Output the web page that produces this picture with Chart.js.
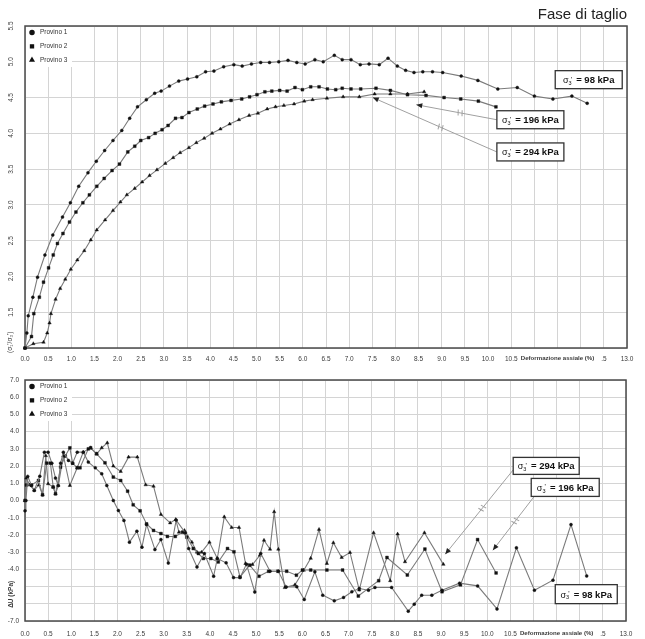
<!DOCTYPE html>
<html>
<head>
<meta charset="utf-8">
<script src="https://cdn.jsdelivr.net/npm/chart.js@4.4.0/dist/chart.umd.min.js"></script>
<style>
  html, body { margin: 0; padding: 0; background: #fff; }
  #wrap { position: relative; width: 645px; height: 639px; }
  #top { position: absolute; left: 0; top: 0; }
  #bottom { position: absolute; left: 0; top: 370px; }
</style>
</head>
<body>
<div id="wrap">
  <canvas id="top" width="645" height="370"></canvas>
  <canvas id="bottom" width="645" height="269"></canvas>
</div>
<script>
const FONT = '"Liberation Sans", Arial, Helvetica, sans-serif';

const seriesNames = ['Provino 1', 'Provino 2', 'Provino 3'];
const markerStyles = ['circle', 'rect', 'triangle'];
const pressureLabels = ['98 kPa', '196 kPa', '294 kPa'];
const panelTitle = 'Fase di taglio';
const xTitle = 'Deformazione assiale (%)';
const ratioTitle = "(σ₁'/σ₃')";
const duTitle = 'ΔU (kPa)';

// rapporto sigma1'/sigma3' durante il taglio
const strainA = [0,0.04,0.07,0.17,0.27,0.43,0.60,0.81,0.98,1.16,1.36,1.54,1.72,1.90,2.09,2.26,2.43,2.62,2.80,2.94,3.12,3.32,3.51,3.71,3.90,4.08,4.29,4.51,4.69,4.89,5.09,5.28,5.48,5.68,5.87,6.05,6.26,6.44,6.68,6.85,7.04,7.24,7.43,7.65,7.84,8.04,8.22,8.40,8.59,8.80,9.02,9.42,9.78,10.21,10.63,11.00,11.40,11.81,12.14];
const ratioA  = [1.00,1.21,1.45,1.71,1.99,2.30,2.58,2.83,3.03,3.26,3.45,3.61,3.76,3.90,4.04,4.21,4.37,4.47,4.56,4.59,4.66,4.73,4.76,4.79,4.86,4.87,4.93,4.96,4.94,4.97,4.99,4.99,5.00,5.02,4.99,4.97,5.03,5.00,5.09,5.03,5.03,4.96,4.97,4.96,5.05,4.94,4.88,4.85,4.86,4.86,4.85,4.80,4.74,4.62,4.64,4.52,4.48,4.52,4.42];

const strainB = [0,0.14,0.19,0.31,0.40,0.51,0.61,0.70,0.82,0.96,1.10,1.25,1.39,1.55,1.71,1.88,2.04,2.22,2.37,2.50,2.67,2.81,2.96,3.09,3.25,3.39,3.54,3.72,3.88,4.06,4.24,4.45,4.68,4.85,5.01,5.18,5.33,5.50,5.66,5.83,5.99,6.17,6.35,6.53,6.71,6.85,7.04,7.25,7.58,7.89,8.26,8.66,9.05,9.41,9.79,10.17];
const ratioB  = [1.00,1.16,1.48,1.71,1.92,2.12,2.30,2.46,2.60,2.76,2.90,3.03,3.14,3.26,3.37,3.48,3.57,3.74,3.82,3.90,3.94,4.00,4.05,4.11,4.21,4.22,4.29,4.34,4.38,4.41,4.44,4.46,4.48,4.51,4.54,4.58,4.59,4.60,4.59,4.64,4.61,4.65,4.65,4.62,4.61,4.63,4.62,4.62,4.63,4.60,4.54,4.53,4.50,4.48,4.45,4.37];

const strainC = [0,0.18,0.40,0.48,0.53,0.56,0.66,0.76,0.87,0.99,1.13,1.28,1.42,1.55,1.73,1.90,2.06,2.20,2.37,2.53,2.69,2.85,3.03,3.20,3.35,3.54,3.70,3.87,4.04,4.22,4.42,4.62,4.84,5.03,5.23,5.41,5.59,5.81,6.03,6.21,6.52,6.87,7.22,7.55,7.89,8.26,8.62];
const ratioC  = [1.00,1.06,1.08,1.21,1.35,1.48,1.68,1.83,1.96,2.10,2.23,2.36,2.51,2.65,2.79,2.92,3.04,3.14,3.23,3.32,3.41,3.49,3.58,3.66,3.73,3.80,3.87,3.93,4.00,4.06,4.13,4.19,4.25,4.28,4.34,4.37,4.39,4.41,4.45,4.47,4.49,4.51,4.51,4.55,4.55,4.55,4.58];

// sovrappressione interstiziale
const strainUA = [0,0.02,0.06,0.14,0.20,0.32,0.42,0.50,0.58,0.66,0.72,0.77,0.83,0.94,1.03,1.13,1.26,1.37,1.52,1.66,1.77,1.91,2.02,2.14,2.26,2.42,2.53,2.63,2.81,2.94,3.10,3.27,3.47,3.54,3.72,3.88,4.08,4.16,4.35,4.51,4.65,4.79,4.97,5.10,5.30,5.48,5.65,5.88,6.04,6.27,6.44,6.69,6.89,7.07,7.23,7.43,7.57,7.93,8.29,8.42,8.58,8.80,9.02,9.40,9.79,10.21,10.63,11.02,11.42,11.81,12.15];
const duA      = [-0.60,0.00,1.40,0.87,0.58,1.41,2.81,2.81,2.17,1.30,0.87,2.17,2.81,2.33,2.17,2.81,2.81,2.23,1.90,1.55,0.87,0.00,-0.58,-1.16,-2.42,-1.78,-2.71,-1.39,-2.85,-2.27,-3.63,-1.14,-1.88,-2.79,-3.86,-3.08,-4.40,-3.37,-3.62,-4.48,-4.48,-3.70,-5.31,-3.08,-4.11,-4.11,-5.02,-5.01,-5.75,-4.14,-5.50,-5.83,-5.63,-5.30,-5.11,-5.21,-5.05,-5.05,-6.43,-6.02,-5.50,-5.50,-5.21,-4.80,-4.96,-6.30,-2.75,-5.21,-4.63,-1.40,-4.38];

const strainUB = [0,0.03,0.14,0.29,0.38,0.47,0.55,0.61,0.66,0.77,0.87,0.97,1.03,1.13,1.19,1.37,1.42,1.55,1.73,1.91,2.07,2.22,2.34,2.49,2.63,2.78,2.94,3.08,3.25,3.41,3.50,3.64,3.75,3.86,4.02,4.18,4.38,4.52,4.65,4.86,5.06,5.27,5.47,5.66,5.87,6.00,6.18,6.53,6.87,7.21,7.65,7.83,8.27,8.65,9.02,9.42,9.79,10.19];
const duB      = [0.00,0.90,0.90,1.16,0.33,2.17,2.17,0.78,0.39,1.94,2.58,3.06,2.17,1.90,1.90,3.00,3.06,2.71,2.19,1.36,1.16,0.54,-0.25,-0.60,-1.36,-1.74,-1.92,-2.09,-2.09,-1.84,-2.13,-2.79,-3.08,-3.37,-3.37,-3.57,-2.79,-2.98,-4.44,-3.76,-4.40,-4.11,-4.11,-4.11,-4.34,-4.04,-4.04,-4.04,-4.04,-5.55,-4.66,-3.31,-4.33,-2.82,-5.30,-4.90,-2.27,-4.21];

const strainUC = [0,0.03,0.10,0.20,0.30,0.38,0.45,0.50,0.61,0.66,0.72,0.83,0.97,1.13,1.26,1.42,1.55,1.66,1.78,1.91,2.07,2.24,2.43,2.61,2.78,2.94,3.14,3.26,3.33,3.45,3.61,3.72,3.82,3.99,4.16,4.31,4.47,4.63,4.77,4.92,5.08,5.17,5.30,5.39,5.48,5.62,5.84,6.03,6.18,6.36,6.53,6.67,6.85,7.03,7.23,7.54,7.90,8.06,8.22,8.64,9.05];
const duC      = [0.00,1.30,0.90,0.60,0.90,0.33,2.60,0.97,0.78,0.39,0.87,2.60,0.87,1.90,2.81,3.06,2.71,3.06,3.35,2.00,1.69,2.52,2.52,0.91,0.83,-0.81,-1.30,-1.10,-1.84,-1.74,-2.42,-3.00,-3.00,-2.42,-3.37,-0.95,-1.57,-1.57,-3.66,-3.72,-3.18,-2.31,-2.83,-0.66,-2.83,-5.06,-4.90,-4.05,-3.36,-1.68,-3.66,-2.45,-3.31,-3.02,-5.20,-1.87,-4.66,-1.95,-3.56,-1.87,-3.71];

// etichette delle pressioni di confinamento (box in coordinate dati, leader verso la curva)
const topNotes = [
  { text: pressureLabels[0], x: 11.45, y: 4.75, w: 67, h: 18 },
  { text: pressureLabels[1], x: 10.19, y: 4.19, w: 67, h: 18, from: [0, 0], tip: [8.45, 4.40] },
  { text: pressureLabels[2], x: 10.19, y: 3.74, w: 67, h: 18, from: [0, 0], tip: [7.51, 4.50] }
];
const bottomNotes = [
  { text: pressureLabels[2], x: 10.56, y: 2.01, w: 66, h: 17, from: [0, 4], tip: [9.09, -3.12] },
  { text: pressureLabels[1], x: 10.95, y: 0.76, w: 68, h: 18, from: [3, 9], tip: [10.12, -2.89] },
  { text: pressureLabels[0], x: 11.47, y: -5.44, w: 62, h: 19 }
];

Chart.defaults.font.family = FONT;

function pairs(xs, ys) {
  return xs.map((x, i) => ({ x: x, y: ys[i] }));
}

function series(i, xs, ys) {
  const style = markerStyles[i];
  return {
    label: seriesNames[i],
    data: pairs(xs, ys),
    showLine: true,
    borderColor: '#7a7a7a',
    borderWidth: 1.1,
    pointStyle: style,
    pointRadius: style === 'circle' ? 1.5 : 2.0,
    pointBackgroundColor: '#111',
    pointBorderColor: '#111',
    pointBorderWidth: 0.4,
    clip: 4
  };
}

const near = (a, b) => Math.abs(a - b) < 1e-6;

function xAxis(height, pad) {
  return {
    type: 'linear', min: 0, max: 13,
    grid: { color: '#d4d4d4', lineWidth: 1, drawTicks: false },
    border: { display: false },
    ticks: {
      stepSize: 0.5, autoSkip: false, maxRotation: 0, minRotation: 0, padding: pad,
      color: '#3a3a3a',
      font: c => (c.tick && near(c.tick.value, 11.5))
        ? { family: FONT, size: 6.1, weight: 'bold' }
        : { family: FONT, size: 6.5 },
      callback: v => {
        if (near(v, 11.5)) return xTitle;
        if (near(v, 11) || near(v, 12)) return '';
        if (near(v, 12.5)) return '.5';
        return v.toFixed(1);
      }
    },
    afterFit: s => { s.height = height; }
  };
}

function drawNote(ctx, chart, n) {
  const xs = chart.scales.x, ys = chart.scales.y;
  const left = xs.getPixelForValue(n.x);
  const cy = ys.getPixelForValue(n.y);
  if (n.tip) {
    const tx = xs.getPixelForValue(n.tip[0]), ty = ys.getPixelForValue(n.tip[1]);
    const sx = left + n.from[0], sy = cy + n.from[1];
    const ang = Math.atan2(ty - sy, tx - sx);
    ctx.strokeStyle = '#a0a0a0';
    ctx.lineWidth = 1;
    ctx.beginPath(); ctx.moveTo(sx, sy); ctx.lineTo(tx, ty); ctx.stroke();
    // piccolo segno di interruzione sul leader
    ctx.save();
    ctx.translate(sx + (tx - sx) * 0.45, sy + (ty - sy) * 0.45);
    ctx.rotate(ang);
    ctx.beginPath();
    ctx.moveTo(-2, -3); ctx.lineTo(-1, 3);
    ctx.moveTo(2, -3); ctx.lineTo(3, 3);
    ctx.stroke();
    ctx.restore();
    // punta della freccia
    ctx.save();
    ctx.translate(tx, ty);
    ctx.rotate(ang);
    ctx.fillStyle = '#222';
    ctx.beginPath(); ctx.moveTo(0, 0); ctx.lineTo(-6, -2.6); ctx.lineTo(-6, 2.6); ctx.closePath(); ctx.fill();
    ctx.restore();
  }
  const top = cy - n.h / 2;
  ctx.fillStyle = '#fff';
  ctx.fillRect(left, top, n.w, n.h);
  ctx.strokeStyle = '#333';
  ctx.lineWidth = 1.3;
  ctx.strokeRect(left, top, n.w, n.h);

  // sigma'3 = valore, centrato nel box
  const base = cy + 3.4;
  const tail = ' = ' + n.text;
  ctx.font = `9px ${FONT}`;
  const wSig = ctx.measureText('σ').width;
  ctx.font = `bold 9.5px ${FONT}`;
  const wTail = ctx.measureText(tail).width;
  const total = wSig + 5 + wTail;
  let x = left + (n.w - total) / 2;
  ctx.fillStyle = '#111';
  ctx.textBaseline = 'alphabetic';
  ctx.textAlign = 'left';
  ctx.font = `9px ${FONT}`;
  ctx.fillText('σ', x, base);
  x += wSig;
  ctx.font = `5.5px ${FONT}`;
  ctx.fillText('3', x, base + 1.8);
  ctx.font = `7px ${FONT}`;
  ctx.fillText("'", x + 2.2, base - 1.5);
  x += 5;
  ctx.font = `bold 9.5px ${FONT}`;
  ctx.fillText(tail, x, base);
}

const panelDecor = {
  id: 'panelDecor',
  beforeDatasetsDraw(chart, args, o) {
    const ctx = chart.ctx, a = chart.chartArea;
    ctx.save();
    // riquadro della legenda sopra la griglia
    ctx.fillStyle = '#fff';
    ctx.fillRect(a.left + 1, a.top + 1, 46, 40);
    ctx.strokeStyle = '#4a4a4a';
    ctx.lineWidth = 1.5;
    ctx.strokeRect(a.left, a.top, a.right - a.left, a.bottom - a.top);
    ctx.font = `6.5px ${FONT}`;
    ctx.textBaseline = 'middle';
    ctx.textAlign = 'left';
    seriesNames.forEach((name, i) => {
      const y = a.top + 6.5 + i * 13.8;
      ctx.fillStyle = '#111';
      ctx.strokeStyle = '#111';
      Chart.helpers.drawPoint(ctx, { pointStyle: markerStyles[i], radius: 2.0, rotation: 0, borderWidth: 0.4 }, a.left + 7, y);
      ctx.fillStyle = '#333';
      ctx.fillText(name, a.left + 15, y);
    });
    ctx.restore();
  },
  afterDraw(chart, args, o) {
    const ctx = chart.ctx, ys = chart.scales.y;
    ctx.save();
    ctx.textAlign = 'center';
    ctx.textBaseline = 'middle';
    ctx.fillStyle = '#3a3a3a';
    if (o.rotatedTicks) {
      ctx.font = `6.5px ${FONT}`;
      ys.ticks.forEach(t => {
        if (o.hideTicks.some(h => near(h, t.value))) return;
        ctx.save();
        ctx.translate(o.tickX, ys.getPixelForValue(t.value));
        ctx.rotate(-Math.PI / 2);
        ctx.fillText(t.value.toFixed(1), 0, 0);
        ctx.restore();
      });
    }
    if (o.yTitle) {
      ctx.font = `${o.yTitle.bold ? 'bold ' : ''}6.5px ${FONT}`;
      ctx.save();
      ctx.translate(o.yTitle.px, ys.getPixelForValue(o.yTitle.value));
      ctx.rotate(-Math.PI / 2);
      ctx.fillText(o.yTitle.text, 0, 0);
      ctx.restore();
    }
    (o.notes || []).forEach(n => drawNote(ctx, chart, n));
    ctx.restore();
  }
};

const gridY = { color: '#d4d4d4', lineWidth: 1, drawTicks: false };

new Chart(document.getElementById('top'), {
  type: 'scatter',
  data: {
    datasets: [
      series(0, strainA, ratioA),
      series(1, strainB, ratioB),
      series(2, strainC, ratioC)
    ]
  },
  options: {
    responsive: false,
    animation: false,
    devicePixelRatio: 1,
    layout: { padding: { left: 0, right: 18, top: 0, bottom: 0 } },
    scales: {
      x: xAxis(22, 7),
      y: {
        type: 'linear', min: 1, max: 5.5,
        grid: gridY,
        border: { display: false },
        ticks: { stepSize: 0.5, display: false },
        afterFit: s => { s.width = 25; }
      }
    },
    plugins: {
      legend: { display: false },
      tooltip: { enabled: false },
      title: {
        display: true, text: panelTitle, align: 'end', color: '#222',
        font: { family: FONT, size: 15, weight: 'normal' },
        padding: { top: 6, bottom: 2 }
      },
      panelDecor: {
        rotatedTicks: true, tickX: 11, hideTicks: [1],
        yTitle: { text: ratioTitle, value: 1.08, px: 10.5, bold: false },
        notes: topNotes
      }
    }
  },
  plugins: [panelDecor]
});

new Chart(document.getElementById('bottom'), {
  type: 'scatter',
  data: {
    datasets: [
      series(0, strainUA, duA),
      series(1, strainUB, duB),
      series(2, strainUC, duC)
    ]
  },
  options: {
    responsive: false,
    animation: false,
    devicePixelRatio: 1,
    layout: { padding: { left: 0, right: 19, top: 10, bottom: 0 } },
    scales: {
      x: xAxis(18, 9),
      y: {
        type: 'linear', min: -7, max: 7,
        grid: gridY,
        border: { display: false },
        ticks: {
          stepSize: 1, padding: 6, color: '#3a3a3a',
          font: { family: FONT, size: 6.5 },
          callback: v => (near(v, -5) || near(v, -6)) ? '' : v.toFixed(1)
        },
        afterFit: s => { s.width = 25; }
      }
    },
    plugins: {
      legend: { display: false },
      tooltip: { enabled: false },
      panelDecor: {
        rotatedTicks: false,
        yTitle: { text: duTitle, value: -5.45, px: 11.5, bold: true },
        notes: bottomNotes
      }
    }
  },
  plugins: [panelDecor]
});
</script>
</body>
</html>
